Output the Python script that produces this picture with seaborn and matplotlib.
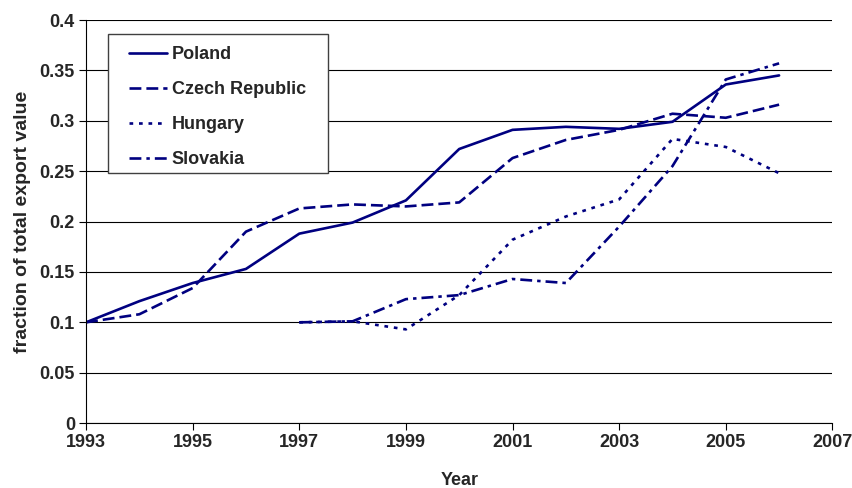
import numpy as np
import pandas as pd
import seaborn as sns
import matplotlib.pyplot as plt
from matplotlib.patches import Rectangle

# Data
years = list(range(1993, 2007))
poland = [0.100, 0.121, 0.139, 0.153, 0.188, 0.199, 0.221, 0.272, 0.291, 0.294, 0.292, 0.299, 0.336, 0.345]
czech = [0.100, 0.108, 0.134, 0.190, 0.213, 0.217, 0.215, 0.219, 0.263, 0.281, 0.291, 0.307, 0.303, 0.316]
hungary = [np.nan, np.nan, np.nan, np.nan, 0.100, 0.101, 0.093, 0.127, 0.182, 0.205, 0.222, 0.282, 0.274, 0.248]
slovakia = [np.nan, np.nan, np.nan, np.nan, 0.100, 0.101, 0.123, 0.127, 0.143, 0.139, 0.195, 0.255, 0.341, 0.357]

countries = ['Poland', 'Czech Republic', 'Hungary', 'Slovakia']
series = [poland, czech, hungary, slovakia]

frames = []
for name, vals in zip(countries, series):
    frames.append(pd.DataFrame({'Year': years, 'value': vals, 'country': name}))
data = pd.concat(frames).dropna()

sns.set_style('white')
plt.rcParams['font.family'] = ['Liberation Sans', 'DejaVu Sans']
plt.rcParams['font.weight'] = 'bold'

fig = plt.figure(figsize=(8.52, 4.88), dpi=100)
ax = fig.add_axes([0.101, 0.133, 0.876, 0.826])

navy = '#000080'
dashes = {'Poland': '',
          'Czech Republic': (4.5, 1.9),
          'Hungary': (1.4, 2.2),
          'Slovakia': (4.5, 1.9, 1.3, 1.9)}
sns.lineplot(data=data, x='Year', y='value', hue='country', style='country',
             palette=[navy] * 4, dashes=dashes, hue_order=countries,
             style_order=countries, linewidth=1.9, ax=ax)

fs = 13
ax.set_xlim(1993, 2007)
ax.set_ylim(0, 0.4)
ax.set_xticks(range(1993, 2008, 2))
ax.set_yticks(np.arange(0, 0.41, 0.05))
ax.set_yticklabels(['0', '0.05', '0.1', '0.15', '0.2', '0.25', '0.3', '0.35', '0.4'])
ax.yaxis.grid(True, color='black', linewidth=0.8)
ax.set_axisbelow(True)
for s in ['top', 'right']:
    ax.spines[s].set_visible(False)
for s in ['left', 'bottom']:
    ax.spines[s].set_color('black')
    ax.spines[s].set_linewidth(0.8)
ax.tick_params(axis='both', direction='out', length=5, width=0.8, color='black',
               labelsize=fs, pad=3, bottom=True, left=True)
for lab in ax.get_xticklabels() + ax.get_yticklabels():
    lab.set_fontweight('bold')
ax.set_xlabel('Year', fontsize=fs, fontweight='bold', labelpad=15)
ax.set_ylabel('fraction of total export value', fontsize=14, fontweight='bold', labelpad=6)

# legend box drawn separately so padding can differ left/right vs top/bottom
ax.add_patch(Rectangle((0.0295, 0.620), 0.295, 0.345, transform=ax.transAxes,
                       facecolor='white', edgecolor='#404040', linewidth=1.0,
                       zorder=4))
handles, labels = ax.get_legend_handles_labels()
leg = ax.legend(handles=handles, labels=labels, loc='upper left',
                bbox_to_anchor=(0.058, 0.935), borderaxespad=0, frameon=False,
                handlelength=2.1, handletextpad=0.25, labelspacing=1.0,
                borderpad=0, prop={'size': fs, 'weight': 'bold'})
leg.set_zorder(5)
for line in leg.get_lines():
    line.set_linewidth(1.9)

fig.savefig('out.png', dpi=100)
